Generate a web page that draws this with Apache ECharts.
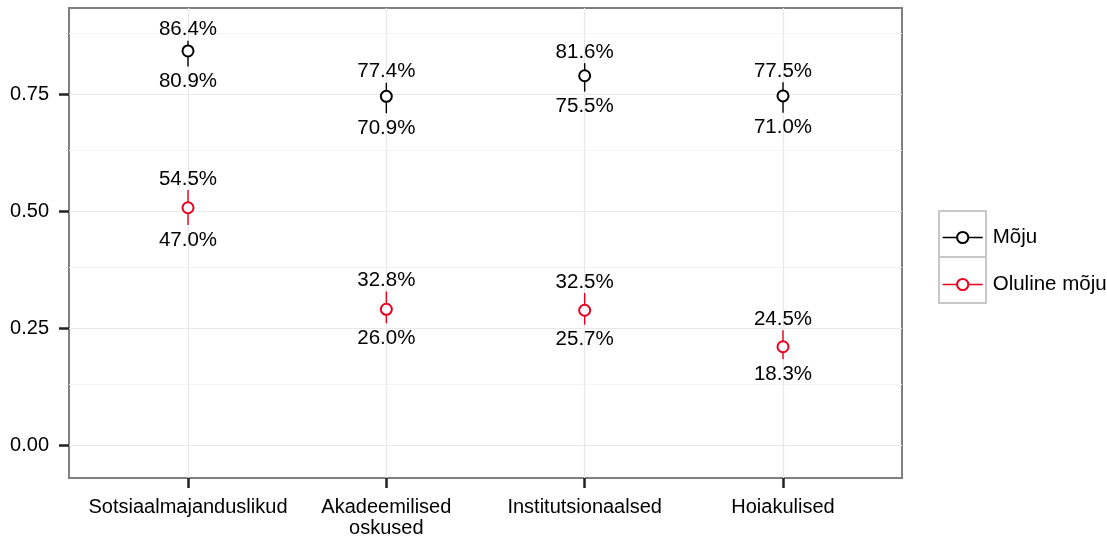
<!DOCTYPE html>
<html><head><meta charset="utf-8">
<script src="https://cdn.jsdelivr.net/npm/echarts@6/dist/echarts.min.js"></script>
<style>html,body{margin:0;padding:0;background:#fff}#c{width:1107px;height:537px}</style>
</head><body><div id="c"></div>
<script>
const categories = ['Sotsiaalmajanduslikud', 'Akadeemilised\noskused', 'Institutsionaalsed', 'Hoiakulised'];
const seriesNames = ['Mõju', 'Oluline mõju'];
const mojuValue = [0.842, 0.745, 0.789, 0.746];
const mojuLow = [0.809, 0.709, 0.755, 0.710];
const mojuHigh = [0.864, 0.774, 0.816, 0.775];
const olulineValue = [0.507, 0.290, 0.288, 0.210];
const olulineLow = [0.470, 0.260, 0.257, 0.183];
const olulineHigh = [0.545, 0.328, 0.325, 0.245];
const yTicks = [0, 0.25, 0.5, 0.75];
const yMinor = [0.125, 0.375, 0.625, 0.875];

const FONT = '"Liberation Sans", Arial, sans-serif';
const colors = ['#000000', '#e8001c'];
const fmt = v => (v * 100).toFixed(1) + '%';

const chart = echarts.init(document.getElementById('c'), null, {renderer: 'canvas'});

function barSeries(name, low, high, color) {
  return {
    type: 'custom', name: name + ' CI', z: 3, silent: true,
    data: categories.map((c, i) => [i, low[i], high[i]]),
    renderItem: (params, api) => {
      const x = api.value(0), lo = api.value(1), hi = api.value(2);
      const pLo = api.coord([x, lo]), pHi = api.coord([x, hi]);
      const ts = {fill: '#000', font: '20.5px ' + FONT, textAlign: 'center', textVerticalAlign: 'middle'};
      return {type: 'group', children: [
        {type: 'line', shape: {x1: pLo[0], y1: pLo[1], x2: pHi[0], y2: pHi[1]}, style: {stroke: color, lineWidth: 1.4}},
        {type: 'text', x: pHi[0], y: pHi[1] - 11, style: Object.assign({text: fmt(hi)}, ts)},
        {type: 'text', x: pLo[0], y: pLo[1] + 15, style: Object.assign({text: fmt(lo)}, ts)}
      ]};
    }
  };
}
function pointSeries(name, vals, color) {
  return {
    type: 'line', name: name, z: 5, silent: true,
    data: categories.map((c, i) => [i, vals[i]]),
    symbol: 'emptyCircle', symbolSize: 11,
    itemStyle: {color: color, borderWidth: 1.5},
    lineStyle: {width: 0, color: color},
    color: color
  };
}

const gridLines = {
  type: 'line', name: 'grid', z: 1, silent: true, data: [],
  markLine: {
    z: 1, silent: true, symbol: ['none', 'none'], label: {show: false}, animation: false,
    data: [
      ...yMinor.map(v => ({yAxis: v, lineStyle: {color: '#f4f4f4', width: 1.2, type: 'solid'}})),
      ...yTicks.map(v => ({yAxis: v, lineStyle: {color: '#e8e8e8', width: 1.2, type: 'solid'}})),
      ...categories.map((c, i) => ({xAxis: i, lineStyle: {color: '#e8e8e8', width: 1.2, type: 'solid'}}))
    ]
  }
};

chart.setOption({
  animation: false,
  backgroundColor: '#fff',
  grid: {left: 69, right: 205, top: 8, bottom: 59, show: true, borderColor: '#808080', borderWidth: 2, backgroundColor: '#fff', outerBoundsMode: 'none', containLabel: false},
  xAxis: {
    type: 'value', min: -0.6, max: 3.6,
    axisLine: {show: false, onZero: false}, splitLine: {show: false},
    axisTick: {show: true, customValues: [0, 1, 2, 3], length: 10, lineStyle: {color: '#222', width: 2.5}},
    axisLabel: {customValues: [0, 1, 2, 3], formatter: v => categories[Math.round(v)], fontSize: 20, fontFamily: FONT, color: '#000', margin: 19, lineHeight: 21}
  },
  yAxis: {
    type: 'value', min: -0.0705, max: 0.9338,
    axisLine: {show: false, onZero: false}, splitLine: {show: false},
    axisTick: {show: true, customValues: yTicks, length: 10, lineStyle: {color: '#222', width: 2.5}},
    axisLabel: {customValues: yTicks, formatter: v => v.toFixed(2), fontSize: 20, fontFamily: FONT, color: '#000', margin: 20}
  },
  legend: {
    data: seriesNames, orient: 'vertical', left: 937, top: 222,
    itemWidth: 40, itemHeight: 14, itemGap: 26,
    textStyle: {fontSize: 20.5, fontFamily: FONT, color: '#000', lineHeight: 20, padding: [0, 0, 0, 5]},
    lineStyle: {width: 1.4},
    selectedMode: false
  },
  graphic: [
    {type: 'rect', shape: {x: 939, y: 211, width: 47, height: 46}, style: {fill: 'none', stroke: '#c8c8c8', lineWidth: 2}, z: -1},
    {type: 'rect', shape: {x: 939, y: 257, width: 47, height: 46}, style: {fill: 'none', stroke: '#c8c8c8', lineWidth: 2}, z: -1}
  ],
  series: [
    gridLines,
    barSeries(seriesNames[0], mojuLow, mojuHigh, colors[0]),
    barSeries(seriesNames[1], olulineLow, olulineHigh, colors[1]),
    pointSeries(seriesNames[0], mojuValue, colors[0]),
    pointSeries(seriesNames[1], olulineValue, colors[1])
  ]
});
</script></body></html>
